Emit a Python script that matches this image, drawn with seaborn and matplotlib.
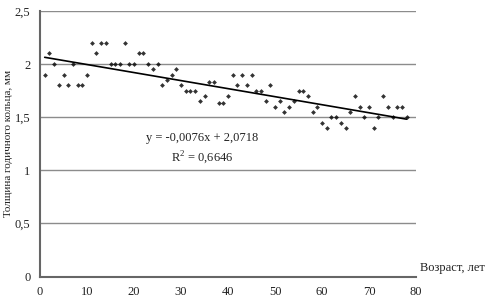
import matplotlib
matplotlib.use("Agg")
import matplotlib.pyplot as plt
import seaborn as sns
import pandas as pd

# --- data ---
ages = list(range(1, 79))
thickness = [
    1.9, 2.1, 2.0, 1.8, 1.9, 1.8, 2.0, 1.8, 1.8, 1.9,      # 1-10
    2.2, 2.1, 2.2, 2.2, 2.0, 2.0, 2.0, 2.2, 2.0, 2.0,      # 11-20
    2.1, 2.1, 2.0, 1.95, 2.0, 1.8, 1.85, 1.9, 1.95, 1.8,   # 21-30
    1.75, 1.75, 1.75, 1.65, 1.7, 1.83, 1.83, 1.63, 1.63, 1.7,  # 31-40
    1.9, 1.8, 1.9, 1.8, 1.9, 1.75, 1.75, 1.65, 1.8, 1.6,   # 41-50
    1.65, 1.55, 1.6, 1.65, 1.75, 1.75, 1.7, 1.55, 1.6, 1.45,  # 51-60
    1.4, 1.5, 1.5, 1.45, 1.4, 1.55, 1.7, 1.6, 1.5, 1.6,    # 61-70
    1.4, 1.5, 1.7, 1.6, 1.5, 1.6, 1.6, 1.5,                # 71-78
]
y_ticks = [0, 0.5, 1, 1.5, 2, 2.5]
y_tick_labels = ["0", "0,5", "1", "1,5", "2", "2,5"]
x_ticks = [0, 10, 20, 30, 40, 50, 60, 70, 80]
x_tick_labels = ["0", "10", "20", "30", "40", "50", "60", "70", "80"]
equation_text = "y = -0,0076x + 2,0718"
r2_text = "R$^2$ = 0,6646"

df = pd.DataFrame({"age": ages, "thickness": thickness})

sns.set_style("white")
plt.rcParams["font.family"] = ["Liberation Serif", "DejaVu Serif"]
plt.rcParams["font.size"] = 9
plt.rcParams["mathtext.fontset"] = "custom"
plt.rcParams["mathtext.rm"] = "Liberation Serif"

fig = plt.figure(figsize=(4.86, 3.08), dpi=100)
ax = fig.add_axes([40 / 486, 1 - 276.5 / 308, 376 / 486, 265.5 / 308])

# gridlines
for yv in y_ticks[1:]:
    ax.axhline(yv, color="#8c8c8c", lw=1.0, zorder=0)

sns.regplot(data=df, x="age", y="thickness", ax=ax, ci=None,
            marker="D", color="black",
            scatter_kws={"s": 6, "linewidths": 0},
            line_kws={"lw": 1.2, "color": "black"})

ax.set_xlim(0, 80)
ax.set_ylim(0, 2.5)
ax.set_xticks(x_ticks)
ax.set_xticklabels(x_tick_labels)
ax.set_yticks(y_ticks)
ax.set_yticklabels(y_tick_labels)
ax.tick_params(axis="both", direction="out", length=3, width=0.8,
               color="#555555", labelcolor="#222222", pad=4)

for side in ["top", "right"]:
    ax.spines[side].set_visible(False)
for side in ["left", "bottom"]:
    ax.spines[side].set_color("#666666")
    ax.spines[side].set_linewidth(1.5)

ax.set_xlabel("")
ax.set_ylabel("Толщина годичного кольца, мм", color="#222222", fontsize=8)
ax.yaxis.set_label_coords(-0.072, 0.5)

ax.text(80.8, 0.02, "Возраст, лет", ha="left", va="bottom", color="#222222")
ax.text(34.5, 1.3, equation_text, ha="center", va="center", color="#222222")
ax.text(34.5, 1.12, r2_text, ha="center", va="center", color="#222222")

fig.savefig("out.png", dpi=100)
